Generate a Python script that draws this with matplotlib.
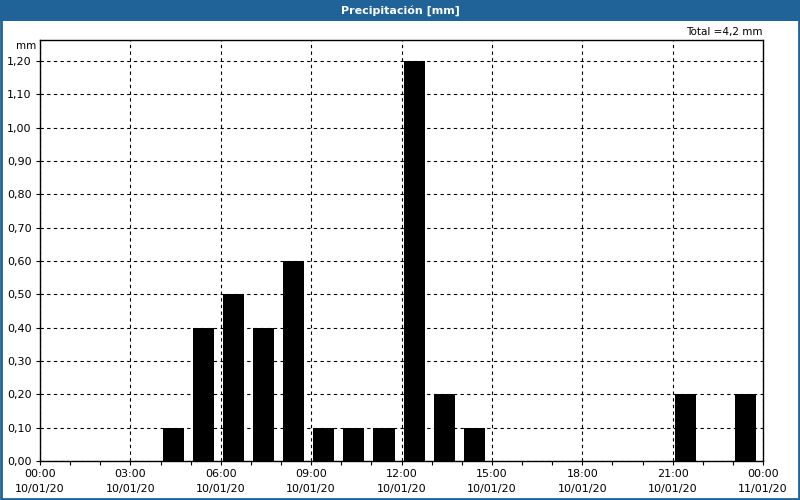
import numpy as np
import matplotlib.pyplot as plt
from matplotlib.patches import Rectangle

# hourly precipitation (hour of day -> mm)
hours = [4, 5, 6, 7, 8, 9, 10, 11, 12, 13, 14, 21, 23]
precip = [0.1, 0.4, 0.5, 0.4, 0.6, 0.1, 0.1, 0.1, 1.2, 0.2, 0.1, 0.2, 0.2]

tick_hours = [0, 3, 6, 9, 12, 15, 18, 21, 24]
tick_labels = ['00:00\n10/01/20', '03:00\n10/01/20', '06:00\n10/01/20',
               '09:00\n10/01/20', '12:00\n10/01/20', '15:00\n10/01/20',
               '18:00\n10/01/20', '21:00\n10/01/20', '00:00\n11/01/20']
yticks = np.arange(0, 1.21, 0.1)

blue = '#1f6399'

fig = plt.figure(figsize=(8, 5), dpi=100)
fig.patch.set_facecolor('white')

# title bar and frame
fig.patches.append(Rectangle((0, 1 - 21 / 500), 1, 21 / 500, transform=fig.transFigure,
                             facecolor=blue, edgecolor='none', zorder=0))
fig.patches.append(Rectangle((0.0008, 0.0012), 0.9984, 0.997, transform=fig.transFigure,
                             facecolor='none', edgecolor=blue, linewidth=2, zorder=5))
fig.text(0.5, 1 - 10.5 / 500, 'Precipitación [mm]', color='white', fontweight='bold',
         fontsize=8, ha='center', va='center')

ax = fig.add_axes([40 / 800, 39 / 500, 723 / 800, 421 / 500])
ax.bar([h + 0.07 for h in hours], precip, width=0.7, align='edge', color='black', zorder=3)

ax.set_xlim(0, 24)
ax.set_ylim(0, 1.263)
ax.set_xticks(tick_hours)
ax.set_xticklabels(tick_labels, linespacing=1.55)
ax.set_xticks(range(25), minor=True)
ax.set_yticks(yticks)
ax.set_yticklabels([f'{v:.2f}'.replace('.', ',') for v in yticks])

ax.grid(True, which='major', color='black', linestyle=(0, (3, 3)), linewidth=0.8)
ax.tick_params(which='both', direction='out', length=3, width=0.8, colors='black',
               labelsize=8, pad=3)
for s in ax.spines.values():
    s.set_linewidth(1)
    s.set_color('black')
ax.set_axisbelow(True)

fig.text(36 / 800, 1 - 46 / 500, 'mm', fontsize=7.5, ha='right', va='center')
fig.text(763 / 800, 1 - 32 / 500, 'Total =4,2 mm', fontsize=7.5, ha='right', va='center')

fig.savefig('out.png', dpi=100)
